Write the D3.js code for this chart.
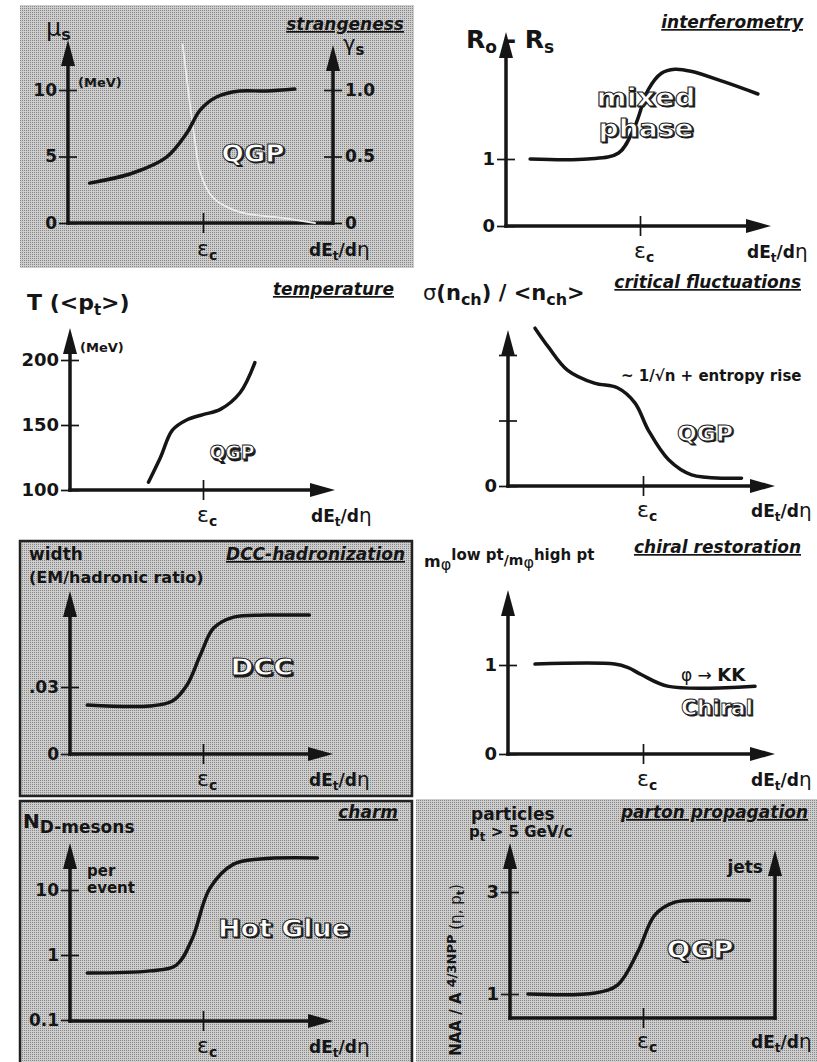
<!doctype html>
<html>
<head>
<script src="https://cdnjs.cloudflare.com/ajax/libs/d3/7.8.5/d3.min.js"></script>
<style>
  body { margin: 0; background: #fff; }
  svg { display: block; font-family: "DejaVu Sans", sans-serif; font-weight: bold; }
</style>
</head>
<body>
<svg width="817" height="1062"></svg>
<script>
// ---- values; x is in units of eps_c ----
var epsTicks = [1];

var muTicks = [0, 5, 10], muLabels = ["0", "5", "10"];
var gammaTicks = [0, 0.5, 1.0], gammaLabels = ["0", "0.5", "1.0"];
var muS = [[0.16,3.0],[0.48,3.76],[0.73,4.96],[0.88,6.77],[0.98,8.5],[1.10,9.47],[1.27,9.92],[1.47,9.92],[1.68,10.07]];
var gammaS = [[0.85,1.34],[0.90,0.92],[0.94,0.62],[0.98,0.38],[1.07,0.195],[1.27,0.083],[1.59,0.038],[1.83,0.0]];

var radTicks = [0, 1], radLabels = ["0", "1"];
var radDiff = [[0.18,1.0],[0.61,1.0],[0.84,1.09],[0.96,1.48],[1.06,2.03],[1.16,2.28],[1.26,2.34],[1.38,2.31],[1.63,2.15],[1.88,1.97]];

var tempTicks = [100, 150, 200], tempLabels = ["100", "150", "200"];
var tempT = [[0.59,106],[0.68,125],[0.77,146],[0.88,154],[1.0,158],[1.13,162],[1.28,175],[1.39,198]];

var fluctTicks = [0, 1, 2], fluctLabels = ["0", "", ""];
var fluctSigma = [[0.2,2.41],[0.30,2.12],[0.44,1.77],[0.64,1.57],[0.81,1.50],[0.94,1.27],[1.04,0.85],[1.19,0.40],[1.36,0.17],[1.73,0.12]];

var dccTicks = [0, 0.03], dccLabels = ["0", ".03"];
var dccWidth = [[0.13,0.0219],[0.60,0.0215],[0.77,0.0237],[0.88,0.0309],[0.98,0.0443],[1.08,0.0564],[1.23,0.0613],[1.48,0.0622],[1.80,0.0622]];

var chiralTicks = [0, 1], chiralLabels = ["0", "1"];
var chiralRatio = [[0.2,1.01],[0.79,1.01],[0.89,0.97],[0.99,0.89],[1.19,0.76],[1.83,0.76]];

var charmTicks = [0.1, 1, 10], charmLabels = ["0.1", "1", "10"];
var charmND = [[0.13,0.53],[0.60,0.57],[0.80,0.70],[0.92,1.8],[1.05,10.5],[1.23,25],[1.43,30],[1.86,31]];

var partonTicks = [1, 3], partonLabels = ["1", "3"];
var partonRatio = [[0.135,1.0],[0.64,1.02],[0.81,1.18],[0.96,1.82],[1.09,2.55],[1.24,2.80],[1.49,2.84],[1.80,2.84]];

// ---- drawing ----
var svg = d3.select("svg");
var ink = "#151515";

var pat = svg.append("defs").append("pattern").attr("id", "dither")
    .attr("width", 2).attr("height", 2).attr("patternUnits", "userSpaceOnUse");
pat.append("rect").attr("width", 2).attr("height", 2).attr("fill", "#cdcdcd");
pat.append("rect").attr("width", 1).attr("height", 1).attr("fill", "#878787");

function box(x, y, w, h, border) {
  svg.append("rect").attr("x", x).attr("y", y).attr("width", w).attr("height", h)
    .attr("fill", "url(#dither)")
    .attr("stroke", border ? "#222" : "none").attr("stroke-width", 2.5);
}
box(20, 5, 394, 263, false);
box(20, 541, 392, 255, true);
box(20, 801, 392, 270, true);
box(416, 799, 410, 270, false);

function rich(sel, parts) {
  parts.forEach(function (p) {
    var t = sel.append("tspan").text(p.t);
    if (p.dy) t.attr("dy", p.dy);
    if (p.dx) t.attr("dx", p.dx);
    if (p.s) t.attr("font-size", p.s);
    if (p.w) t.attr("font-weight", p.w);
  });
  return sel;
}
function label(x, y, size, parts, anchor) {
  var t = svg.append("text").attr("x", x).attr("y", y).attr("font-size", size)
    .attr("fill", ink).attr("text-anchor", anchor || "start");
  if (typeof parts === "string") t.text(parts); else rich(t, parts);
  return t;
}
function title(xr, y, str) {
  svg.append("text").attr("x", xr).attr("y", y).attr("text-anchor", "end")
    .attr("font-size", 17).attr("font-style", "italic").attr("fill", ink)
    .attr("text-decoration", "underline").text(str);
}
function outlined(cx, cy, str, size, len) {
  [[1.4, "#1a1a1a"], [0, "#fff"]].forEach(function (v) {
    svg.append("text").attr("x", cx + v[0]).attr("y", cy + v[0] + size * 0.36)
      .attr("text-anchor", "middle").attr("font-size", size)
      .attr("textLength", len).attr("lengthAdjust", "spacingAndGlyphs")
      .attr("fill", v[1]).attr("stroke", "#1a1a1a").attr("stroke-width", 0.9).text(str);
  });
}
function styleAxis(a, size) {
  a.attr("font-family", null).attr("font-size", size || 17);
  a.select(".domain").remove();
  a.selectAll(".tick line").attr("stroke", ink).attr("stroke-width", 1.7);
  a.selectAll(".tick text").attr("fill", ink);
}
function arrowUp(g, x, yTip) {
  g.append("path").attr("d", "M" + x + "," + yTip + "L" + (x - 7) + "," + (yTip + 26) + "L" + (x + 7) + "," + (yTip + 26) + "Z").attr("fill", ink);
}
function arrowRight(g, xTip, y) {
  g.append("path").attr("d", "M" + xTip + "," + y + "L" + (xTip - 25) + "," + (y - 7) + "L" + (xTip - 25) + "," + (y + 7) + "Z").attr("fill", ink);
}

function panel(p, series) {
  var x = d3.scaleLinear().domain([0, 1]).range([p.ox, p.ex]);
  var g = svg.append("g");
  var ya = g.append("g").attr("transform", "translate(" + p.ox + ",0)")
    .call(d3.axisLeft(p.y).tickValues(p.yTicks)
      .tickFormat(function (d, i) { return p.yLabels[i]; }).tickSize(9).tickPadding(2));
  styleAxis(ya, p.tickFont);
  ya.selectAll(".tick line").attr("x1", 9);
  var xa = g.append("g").attr("transform", "translate(0," + p.oy + ")")
    .call(d3.axisBottom(x).tickValues(epsTicks).tickFormat("").tickSize(10));
  styleAxis(xa);
  xa.selectAll(".tick line").attr("y1", -10);

  g.append("path").attr("d", "M" + p.ox + "," + (p.oy + 1.7) + "V" + (p.yTop + 18))
    .attr("stroke", ink).attr("stroke-width", 3.5);
  arrowUp(g, p.ox, p.yTop);
  g.append("path").attr("d", "M" + (p.ox - 1.7) + "," + p.oy + "H" + (p.xArrow ? p.xEnd - 18 : p.xEnd + 1.7))
    .attr("stroke", ink).attr("stroke-width", 3.5);
  if (p.xArrow) arrowRight(g, p.xEnd, p.oy);

  series.forEach(function (s) {
    var ys = s.y || p.y;
    g.append("path").datum(s.data)
      .attr("d", d3.line().x(function (d) { return x(d[0]); }).y(function (d) { return ys(d[1]); })
        .curve(d3.curveCatmullRom.alpha(0.5)))
      .attr("fill", "none").attr("stroke", s.color || ink).attr("stroke-width", s.width || 3.5)
      .attr("stroke-linecap", "round");
  });

  var lab = p.oy + (p.labGap || 32);
  label(x(epsTicks[0]) - 6, lab, 22, [{ t: "ε", w: "normal" }, { t: "c", s: 14, dy: 4, w: "bold" }]);
  label(p.xEnd - 24, lab, 17, [{ t: "dE" }, { t: "t", s: 12, dy: 4 }, { t: "/d", dy: -4 }, { t: "η", w: "normal", s: 20 }]);
  return g;
}

// 1 strangeness
var muY = d3.scaleLinear().domain([0, 10]).range([223, 90]);
var gammaY = d3.scaleLinear().domain([0, 1]).range([223, 90]);
var g1 = panel({ ox: 68, oy: 223, ex: 203, yTop: 40, xEnd: 333, xArrow: false, y: muY, yTicks: muTicks, yLabels: muLabels, tickFont: 17, labGap: 33 },
  [{ data: gammaS, y: gammaY, color: "#ececec", width: 1.8 }, { data: muS }]);
var ra = g1.append("g").attr("transform", "translate(333,0)")
  .call(d3.axisRight(gammaY).tickValues(gammaTicks).tickFormat(function (d, i) { return gammaLabels[i]; }).tickSize(9).tickPadding(3));
styleAxis(ra, 17);
ra.selectAll(".tick line").attr("x1", -9);
g1.append("path").attr("d", "M333,224.7V62").attr("stroke", ink).attr("stroke-width", 3.5);
arrowUp(g1, 333, 45);
label(46, 36, 24, [{ t: "μ", w: "normal" }, { t: "s", s: 16, dy: 4 }]);
label(78, 87, 13, "(MeV)");
label(343, 51, 21, [{ t: "γ", w: "normal" }, { t: "s", s: 15, dy: 4 }]);
title(404, 30, "strangeness");
outlined(253, 153, "QGP", 24, 63);

// 2 interferometry
panel({ ox: 506, oy: 226, ex: 640, yTop: 32, xEnd: 771, xArrow: true,
  y: d3.scaleLinear().domain([0, 1]).range([226, 159]), yTicks: radTicks, yLabels: radLabels, tickFont: 18 },
  [{ data: radDiff }]);
label(466, 48, 25, [{ t: "R" }, { t: "o", s: 17, dy: 5 }, { t: " - R", dy: -5 }, { t: "s", s: 17, dy: 5 }]);
title(803, 28, "interferometry");
outlined(646, 97, "mixed", 24, 99);
outlined(646, 128, "phase", 24, 95);

// 3 temperature
panel({ ox: 70, oy: 490, ex: 203, yTop: 328, xEnd: 335, xArrow: true,
  y: d3.scaleLinear().domain([100, 200]).range([490, 360]), yTicks: tempTicks, yLabels: tempLabels, tickFont: 18 },
  [{ data: tempT }]);
label(27, 310, 22, [{ t: "T (<p" }, { t: "t", s: 15, dy: 5 }, { t: ">)", dy: -5 }]);
label(80, 352, 13, "(MeV)");
title(394, 295, "temperature");
outlined(232, 452, "QGP", 20, 45);

// 4 critical fluctuations
panel({ ox: 508, oy: 486, ex: 643, yTop: 330, xEnd: 775, xArrow: true,
  y: d3.scaleLinear().domain([0, 2]).range([486, 355]), yTicks: fluctTicks, yLabels: fluctLabels, tickFont: 18, labGap: 31 },
  [{ data: fluctSigma }]);
label(423, 300, 21, [{ t: "σ", w: "normal" }, { t: "(n" }, { t: "ch", s: 16, dy: 5 }, { t: ") / <n", dy: -5 }, { t: "ch", s: 16, dy: 5 }, { t: ">", dy: -5 }]);
title(801, 288, "critical fluctuations");
label(621, 381, 15, "~ 1/√n + entropy rise");
outlined(705, 433, "QGP", 21, 56);

// 5 DCC-hadronization
panel({ ox: 70, oy: 754, ex: 203, yTop: 591, xEnd: 333, xArrow: true,
  y: d3.scaleLinear().domain([0, 0.03]).range([754, 687]), yTicks: dccTicks, yLabels: dccLabels, tickFont: 17 },
  [{ data: dccWidth }]);
label(29, 560, 17, "width");
label(29, 583, 16, "(EM/hadronic ratio)");
title(405, 560, "DCC-hadronization");
outlined(262, 667, "DCC", 23, 63);

// 6 chiral restoration
panel({ ox: 508, oy: 754, ex: 643, yTop: 590, xEnd: 775, xArrow: true,
  y: d3.scaleLinear().domain([0, 1]).range([754, 665]), yTicks: chiralTicks, yLabels: chiralLabels, tickFont: 18 },
  [{ data: chiralRatio }]);
label(424, 567, 16, [{ t: "m" }, { t: "φ", w: "normal", dy: 3 }, { t: "low pt", s: 15, dy: -10 }, { t: "/m", s: 14, dy: 5 }, { t: "φ", w: "normal", dy: 3 }, { t: "high pt", s: 15, dy: -8 }]);
title(801, 553, "chiral restoration");
label(681, 681, 17, [{ t: "φ → ", w: "normal" }, { t: "KK", s: 18 }]);
outlined(717, 707, "Chiral", 22, 72);

// 7 charm
panel({ ox: 70, oy: 1021, ex: 203, yTop: 843, xEnd: 333, xArrow: true,
  y: d3.scaleLog().domain([1, 10]).range([955, 890]), yTicks: charmTicks, yLabels: charmLabels, tickFont: 17 },
  [{ data: charmND }]);
label(23, 828, 20, [{ t: "N" }, { t: "D-mesons", s: 17, dy: 5 }]);
label(87, 876, 15, "per");
label(87, 893, 15, "event");
title(398, 818, "charm");
outlined(284, 928, "Hot Glue", 24, 132);

// 8 parton propagation
var g8 = panel({ ox: 510, oy: 1018, ex: 643, yTop: 843, xEnd: 775, xArrow: false,
  y: d3.scaleLinear().domain([1, 3]).range([994, 892]), yTicks: partonTicks, yLabels: partonLabels, tickFont: 18, labGap: 30 },
  [{ data: partonRatio }]);
g8.append("path").attr("d", "M775,1019.7V868").attr("stroke", ink).attr("stroke-width", 3.5);
arrowUp(g8, 775, 850);
label(471, 820, 17, "particles");
label(469, 837, 15, [{ t: "p" }, { t: "t", s: 12, dy: 4 }, { t: " > 5 GeV/c", dy: -4 }]);
title(808, 818, "parton propagation");
label(763, 873, 17, "jets", "end");
svg.append("text").attr("transform", "translate(461,970) rotate(-90)").attr("text-anchor", "middle")
  .attr("font-size", 15).attr("fill", ink)
  .call(rich, [{ t: "NAA / A " }, { t: "4/3", dy: -5, s: 13 }, { t: "NPP", s: 13 }, { t: " (η, p", dy: 5, w: "normal" }, { t: "t", s: 11, dy: 3 }, { t: ")", dy: -3, w: "normal" }]);
outlined(700, 949, "QGP", 24, 67);
</script>
</body>
</html>
